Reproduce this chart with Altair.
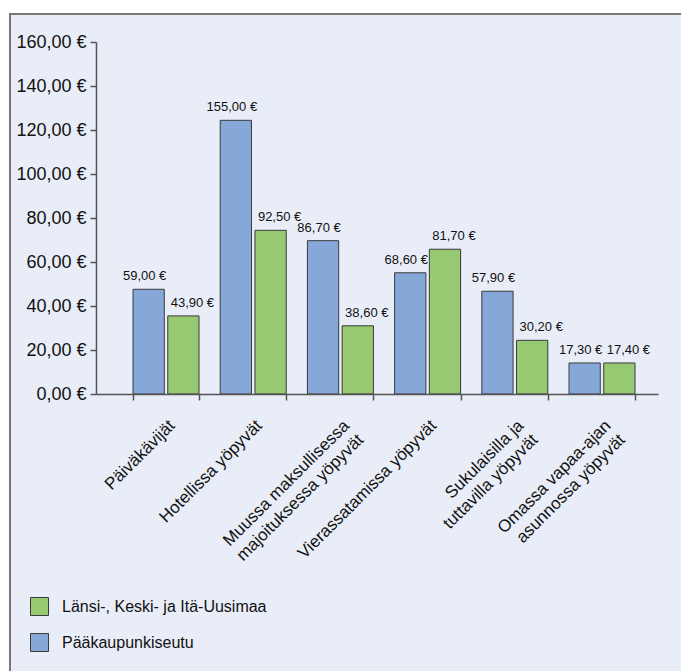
import altair as alt
import pandas as pd

categories = [
    "Päiväkävijät",
    "Hotellissa yöpyvät",
    "Muussa maksullisessa|majoituksessa yöpyvät",
    "Vierassatamissa yöpyvät",
    "Sukulaisilla ja|tuttavilla yöpyvät",
    "Omassa vapaa-ajan|asunnossa yöpyvät",
]
series = ["Pääkaupunkiseutu", "Länsi-, Keski- ja Itä-Uusimaa"]
# bar heights as drawn in the picture (axis units)
bar_paakaupunki = [47.6, 124.4, 69.7, 55.1, 46.7, 14.1]
bar_lansi = [35.5, 74.4, 31.0, 65.8, 24.4, 14.1]
# printed value labels
label_paakaupunki = ["59,00 €", "155,00 €", "86,70 €", "68,60 €", "57,90 €", "17,30 €"]
label_lansi = ["43,90 €", "92,50 €", "38,60 €", "81,70 €", "30,20 €", "17,40 €"]
y_ticks = [0, 20, 40, 60, 80, 100, 120, 140, 160]

rows = []
for i, c in enumerate(categories):
    rows.append({"cat": c, "series": series[0], "v": bar_paakaupunki[i], "lab": label_paakaupunki[i]})
    rows.append({"cat": c, "series": series[1], "v": bar_lansi[i], "lab": label_lansi[i]})
df = pd.DataFrame(rows)

BLUE = "#86a8d9"
GREEN = "#97c872"
PANEL = "#e9edf7"
FONT = "Liberation Sans"
INK = "#111111"

xscale = alt.Scale(domain=categories, paddingInner=0.243, paddingOuter=0.344, align=0.617)
x = alt.X("cat:N", scale=xscale, sort=categories, title=None,
          axis=alt.Axis(labelAngle=-45, labelAlign="right", labelBaseline="top",
                        labelExpr="split(datum.label, '|')", labelFontSize=17,
                        labelLineHeight=20, labelPadding=17, labelOffset=0,
                        tickBand="extent", tickSize=6, labelFont=FONT,
                        labelColor=INK, domainColor="#555555", tickColor="#555555",
                        domainWidth=1.5, tickWidth=1.5, zindex=1, labelLimit=0))
y = alt.Y("v:Q", scale=alt.Scale(domain=[0, 160], nice=False), title=None,
          axis=alt.Axis(values=y_ticks, grid=False, tickSize=6, labelPadding=4,
                        labelFontSize=18, labelFont=FONT, labelColor=INK,
                        labelExpr="replace(format(datum.value, '.2f'), '.', ',') + ' €'",
                        domainColor="#555555", tickColor="#555555",
                        domainWidth=1.5, tickWidth=1.5, zindex=1))
xoff = alt.XOffset("series:N", sort=series, scale=alt.Scale(paddingInner=0.1, paddingOuter=0))

panel = alt.Chart(alt.Data(values=[{"p": 1}])).mark_rect(
    fill=PANEL, stroke="#777777", strokeWidth=2
).encode(x=alt.value(-86), x2=alt.value(700), y=alt.value(-28), y2=alt.value(700))

bars = alt.Chart(df).mark_bar(stroke="#3a3a3a", strokeWidth=1).encode(
    x=x, y=y, xOffset=xoff,
    color=alt.Color("series:N",
                    scale=alt.Scale(domain=[series[1], series[0]], range=[GREEN, BLUE]),
                    legend=alt.Legend(title=None, orient="none", legendX=-66, legendY=555,
                                      symbolType="square", symbolSize=324,
                                      symbolStrokeColor="#3a3a3a", symbolStrokeWidth=1,
                                      labelFontSize=16, labelFont=FONT, labelColor=INK,
                                      labelOffset=13, rowPadding=13, padding=0, labelLimit=0)),
)

text_blue = alt.Chart(df).transform_filter(alt.datum.series == series[0]).mark_text(
    baseline="alphabetic", dy=-9, dx=-4, fontSize=13, font=FONT, color=INK
).encode(x=x, y=y, xOffset=xoff, text="lab:N")
text_green = alt.Chart(df).transform_filter(alt.datum.series == series[1]).mark_text(
    baseline="alphabetic", dy=-9, dx=9, fontSize=13, font=FONT, color=INK
).encode(x=x, y=y, xOffset=xoff, text="lab:N")

chart = alt.layer(panel, bars, text_blue, text_green).properties(
    width=562, height=352,
    autosize=alt.AutoSizeParams(type="none"),
    padding={"left": 96, "top": 42, "right": 23, "bottom": 277},
    background="white",
).configure_view(stroke=None)

chart.save("out.html", embed_options={"renderer": "svg", "actions": False})
